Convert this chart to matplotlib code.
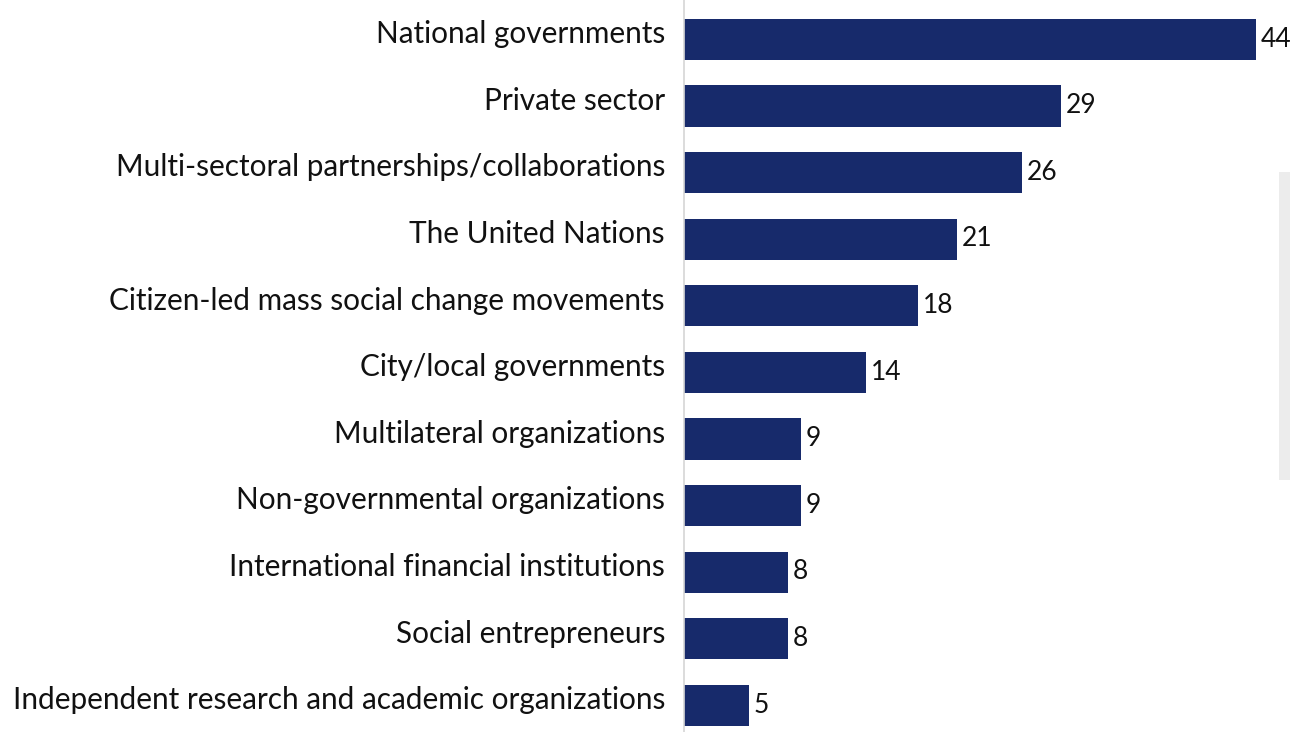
import matplotlib.pyplot as plt
from matplotlib.patches import Rectangle

categories = [
    "National governments",
    "Private sector",
    "Multi-sectoral partnerships/collaborations",
    "The United Nations",
    "Citizen-led mass social change movements",
    "City/local governments",
    "Multilateral organizations",
    "Non-governmental organizations",
    "International financial institutions",
    "Social entrepreneurs",
    "Independent research and academic organizations",
]
values = [44, 29, 26, 21, 18, 14, 9, 9, 8, 8, 5]

plt.rcParams['font.family'] = ['Lato', 'DejaVu Sans']

fig = plt.figure(figsize=(12.9, 7.32), dpi=100)
ax = fig.add_axes([684 / 1290, 0, 1 - 684 / 1290, 1])

y = list(range(len(categories)))
ax.barh(y, values, height=0.62, color='#172a6b', zorder=2)

ax.set_xlim(0, 46.6)
ax.set_ylim(10.40, -0.593)

# value labels just right of each bar
for yi, v in zip(y, values):
    ax.text(v + 0.38, yi + 0.108, str(v), va='baseline', ha='left',
            fontsize=19, color='#111111')

# category labels to the left of the axis line
trans = ax.get_yaxis_transform()
for yi, c in zip(y, categories):
    ax.text(-0.0314, yi + 0.057, c, transform=trans, va='baseline', ha='right',
            fontsize=21.4, color='#111111')

ax.set_yticks([])
ax.set_xticks([])

for s in ['top', 'right', 'bottom']:
    ax.spines[s].set_visible(False)
ax.spines['left'].set_color('#d6d6d6')
ax.spines['left'].set_linewidth(1.2)

# faint panel at the right edge
fig.patches.append(Rectangle((1279 / 1290, 1 - 480 / 732), 11 / 1290, 308 / 732,
                             transform=fig.transFigure, facecolor='#ececec',
                             edgecolor='none', zorder=0))

fig.savefig('out.png', dpi=100)
